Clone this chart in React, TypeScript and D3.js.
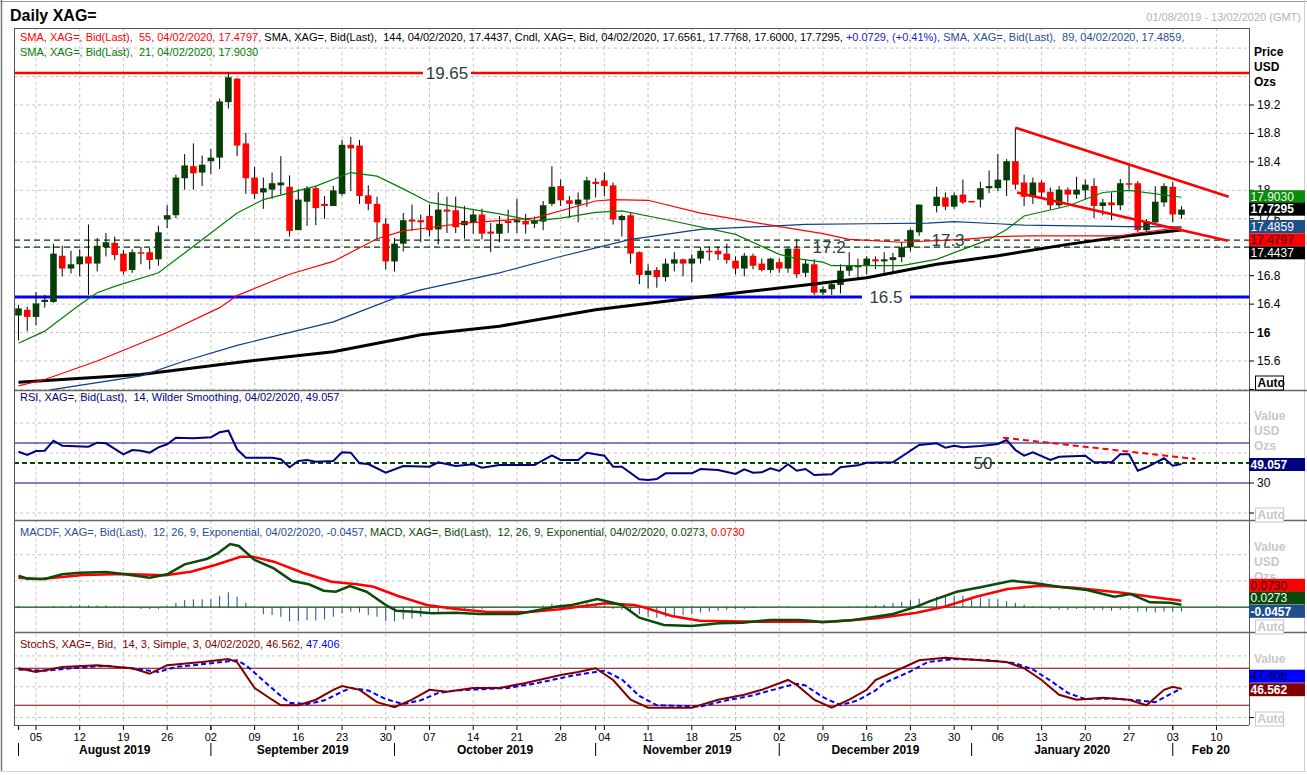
import React from "react";
import * as d3 from "d3";

// ---------- calendar (weekday slots) ----------
const START = new Date(2019, 7, 1);
const END = new Date(2020, 1, 13);
const DAYS = d3.timeDays(START, d3.timeDay.offset(END, 1)).filter((d) => d.getDay() !== 0 && d.getDay() !== 6);
const MONTH_NAMES = ["August 2019", "September 2019", "October 2019", "November 2019", "December 2019", "January 2020", "Feb 20"];

// ---------- candles ----------
const OPEN = [16.24,16.32,16.22,16.43,16.43,17.08,16.90,16.96,17.07,16.97,17.20,17.26,17.11,16.88,17.13,17.13,17.03,17.59,17.65,18.17,18.34,18.25,18.41,18.46,19.24,19.57,18.66,18.18,17.97,18.01,18.07,18.05,17.44,17.84,18.03,17.81,17.78,17.95,18.64,18.63,17.93,17.81,17.53,17.00,17.25,17.59,17.58,17.64,17.45,17.73,17.72,17.51,17.55,17.66,17.42,17.39,17.57,17.55,17.57,17.53,17.56,17.81,18.06,17.86,17.80,17.87,18.12,18.14,18.07,17.58,17.65,17.13,16.81,16.88,16.78,16.97,17.03,16.97,17.04,17.15,17.15,17.11,17.01,16.90,17.08,16.97,16.88,16.99,16.90,17.18,16.84,16.96,16.56,16.61,16.67,16.87,16.92,16.94,17.03,17.00,17.02,17.06,17.20,17.41,null,17.78,17.90,17.77,17.94,17.85,17.87,18.03,18.03,18.14,18.41,18.11,17.91,18.11,17.98,17.79,18.01,17.94,18.00,18.06,17.78,17.83,17.79,18.10,18.10,17.44,17.55,17.83,18.05,17.6561];
const HIGH = [16.39,16.36,16.57,16.53,17.25,17.22,17.15,17.17,17.52,17.33,17.40,17.35,17.16,17.17,17.20,17.19,17.50,17.79,18.22,18.51,18.66,18.49,18.58,19.29,19.66,19.58,18.81,18.33,18.18,18.25,18.48,18.21,18.02,18.06,18.06,17.92,18.06,18.71,18.75,18.71,18.07,17.91,17.61,17.33,17.68,17.80,17.66,17.80,17.97,17.91,17.91,17.78,17.72,17.74,17.54,17.64,17.73,17.88,17.67,17.63,17.85,18.34,18.15,17.92,17.97,18.19,18.17,18.25,18.11,17.66,17.68,17.14,16.96,16.92,17.04,17.13,17.04,17.10,17.20,17.21,17.21,17.25,17.07,17.12,17.11,17.04,17.05,17.04,17.19,17.32,17.03,17.03,16.65,16.72,16.96,17.13,17.04,17.07,17.07,17.13,17.12,17.27,17.46,17.80,null,18.05,17.97,17.97,18.15,17.85,18.12,18.28,18.51,18.44,18.88,18.22,18.18,18.14,18.04,18.06,18.04,18.19,18.15,18.17,17.88,17.97,18.16,18.35,18.13,17.60,18.06,18.10,18.12,17.7768];
const LOW = [15.89,16.02,16.10,16.35,16.42,16.79,16.83,16.79,16.53,16.86,17.07,17.02,16.82,16.84,16.96,16.89,16.94,17.47,17.61,18.01,18.01,18.06,18.23,18.30,19.15,18.48,17.95,17.88,17.74,17.88,17.94,17.35,17.44,17.50,17.51,17.60,17.78,17.92,17.99,17.81,17.72,17.31,16.89,16.86,17.14,17.43,17.27,17.35,17.24,17.40,17.40,17.32,17.39,17.31,17.13,17.27,17.40,17.40,17.39,17.47,17.44,17.78,17.78,17.61,17.55,17.77,17.90,17.92,17.52,17.35,16.97,16.68,16.62,16.63,16.72,16.86,16.79,16.71,16.97,17.01,17.02,16.97,16.82,16.79,16.89,16.86,16.84,16.84,16.84,16.77,16.78,16.53,16.53,16.53,16.55,16.80,16.77,16.82,16.89,16.84,16.85,16.99,17.14,17.36,null,17.69,17.72,17.74,17.81,17.84,17.76,17.96,17.99,17.92,18.01,17.78,17.81,17.88,17.73,17.75,17.83,17.88,17.87,17.61,17.65,17.58,17.72,18.01,17.41,17.42,17.52,17.77,17.55,17.6000];
const CLOSE = [16.34,16.22,16.41,16.46,17.11,16.90,16.96,17.07,16.97,17.22,17.27,17.09,16.86,17.13,17.11,17.02,17.41,17.65,18.18,18.35,18.24,18.36,18.46,19.25,19.59,18.63,18.17,17.95,18.03,18.10,18.11,17.43,17.87,18.03,17.75,17.78,18.00,18.64,18.59,17.92,17.81,17.55,17.00,17.25,17.58,17.56,17.55,17.44,17.73,17.70,17.48,17.57,17.66,17.39,17.39,17.53,17.54,17.58,17.52,17.58,17.79,18.05,17.86,17.81,17.87,18.14,18.09,18.06,17.59,17.64,17.11,16.81,16.87,16.78,16.97,17.03,16.97,17.04,17.15,17.13,17.10,17.02,16.90,17.08,16.94,16.88,17.04,16.90,17.18,16.82,16.97,16.56,16.61,16.68,16.87,16.94,16.94,17.04,17.00,17.03,17.06,17.20,17.44,17.80,null,17.91,17.77,17.93,17.83,17.84,18.03,18.06,18.15,18.41,18.08,17.91,18.11,17.97,17.79,18.01,17.94,18.01,18.08,17.78,17.83,17.79,18.10,18.08,17.44,17.56,17.84,18.06,17.66,17.7295];

// ---------- moving averages [day index, value] ----------
const SMA21 = [[0,15.85],[3,16.02],[7,16.39],[9,16.56],[11,16.65],[16,16.84],[19,17.12],[22,17.40],[25,17.68],[28,17.87],[34,18.06],[38,18.25],[41,18.20],[44,18.02],[47,17.83],[51,17.75],[55,17.67],[59,17.57],[62,17.61],[66,17.69],[69,17.71],[74,17.59],[82,17.38],[87,17.10],[89,17.04],[92,16.99],[93,16.94],[101,16.94],[105,17.03],[108,17.17],[111,17.31],[113,17.45],[115,17.64],[120,17.78],[124,17.97],[127,18.00],[133,17.903]];
const SMA55 = [[0,15.25],[3,15.34],[9,15.60],[17,16.00],[23,16.35],[25,16.52],[31,16.82],[36,17.00],[41,17.32],[44,17.43],[46,17.46],[51,17.54],[59,17.61],[66,17.85],[68,17.87],[72,17.86],[78,17.68],[86,17.51],[89,17.45],[92,17.39],[95,17.31],[101,17.27],[108,17.31],[112,17.35],[116,17.36],[126,17.36],[128,17.40],[133,17.4797]];
const SMA89 = [[0,15.10],[4,15.20],[14,15.39],[19,15.60],[25,15.82],[36,16.15],[44,16.53],[46,16.60],[55,16.84],[62,17.07],[70,17.31],[78,17.45],[90,17.52],[97,17.53],[104,17.54],[107,17.56],[112,17.53],[115,17.51],[127,17.49],[133,17.4859]];
const SMA144 = [[0,15.30],[14,15.41],[25,15.58],[36,15.73],[44,15.92],[46,15.97],[55,16.09],[66,16.32],[78,16.50],[90,16.67],[97,16.77],[105,16.96],[112,17.08],[120,17.24],[127,17.36],[133,17.4437]];

const RESISTANCE = 19.65;
const SUPPORT = 16.5;
const DASHED_LEVELS = [17.3, 17.2];
const LEVEL_LABELS = [
  { text: "19.65", i: 49, v: 19.65, box: true },
  { text: "17.2", i: 92.7, v: 17.2, box: false },
  { text: "17.3", i: 106.3, v: 17.3, box: false },
  { text: "16.5", i: 99.2, v: 16.5, box: true },
];
const TREND_UPPER = [[114, 18.88], [138.4, 17.91]];
const TREND_LOWER = [[114.2, 17.97], [138.3, 17.29]];

// ---------- RSI ----------
const RSI = [[0,61.3],[1,58],[2,62],[3,62.3],[4,72.3],[5,67.3],[8,66.3],[9,70.3],[10,69.7],[12,58.7],[13,63],[14,62.3],[15,60.3],[16,65.7],[17,68.7],[18,75.3],[20,74.7],[22,75.7],[23,80.7],[24,82.3],[25,63.7],[26,55.3],[29,55.3],[30,53.7],[31,45.7],[32,52],[33,53],[34,51.3],[36,52],[37,60.7],[38,60.3],[39,49.7],[40,49],[42,40.3],[44,47],[47,46.3],[48,50.7],[50,47],[52,48.7],[53,45.3],[55,48],[59,48],[61,57.7],[62,53],[64,53],[65,60.3],[67,57.3],[68,46.3],[69,46.3],[71,33.7],[72,33],[73,34],[74,39.7],[77,39.7],[78,44],[80,43],[82,39],[83,43.7],[84,40.3],[85,40.7],[86,44.7],[87,42],[88,48.7],[89,42.3],[90,44],[91,38],[93,38.7],[94,45.7],[96,47.7],[97,50.3],[100,50.7],[103,68],[105,69.7],[106,65.3],[107,67.3],[108,65.7],[110,67],[112,69],[113,73],[114,63],[115,57.3],[116,60.7],[118,53],[119,56.3],[122,57.3],[123,50.7],[125,50.7],[126,58.7],[127,58.7],[128,42.3],[129,45.7],[131,54.7],[132,47.3],[133,49.057]];
const RSI_LEVELS = [70, 30];
const RSI_TREND = [[112.6, 75.3], [134.6, 54]];

// ---------- MACD ----------
const MACD = [[0,0.36],[1,0.326],[3,0.322],[5,0.376],[7,0.394],[10,0.402],[12,0.379],[15,0.337],[17,0.376],[19,0.49],[21.6,0.554],[22.8,0.616],[24.2,0.722],[25.2,0.70],[27,0.54],[29.2,0.444],[31.3,0.30],[33.2,0.262],[34.9,0.189],[36.3,0.177],[37.9,0.242],[39.8,0.177],[42,0.025],[43.2,-0.04],[45.3,-0.051],[47.2,-0.07],[50,-0.063],[52.7,-0.078],[57.1,-0.078],[61.4,0.006],[63.3,0.025],[66.2,0.094],[69,0.025],[71,-0.12],[73.8,-0.203],[77,-0.215],[80.1,-0.184],[82.8,-0.177],[86,-0.146],[89.2,-0.146],[90.5,-0.154],[91.9,-0.173],[95.5,-0.146],[100,-0.078],[102.7,0.006],[104.1,0.063],[107.3,0.177],[110,0.227],[113.6,0.303],[116.3,0.273],[119,0.234],[122.2,0.197],[125.3,0.12],[127.2,0.151],[129.4,0.056],[131.7,0.051],[133,0.0273]];
const SIGNAL = [[0,0.337],[2.6,0.322],[7.4,0.368],[12.1,0.379],[16.8,0.364],[19.7,0.406],[22.5,0.482],[25.4,0.577],[26.8,0.577],[29.2,0.52],[32.5,0.394],[35.8,0.291],[38.7,0.262],[40.6,0.234],[43.4,0.128],[46.7,0.025],[50,-0.021],[53.4,-0.051],[58.1,-0.059],[61.9,-0.024],[67.1,0.044],[70.4,0.025],[71.5,0.0],[74.7,-0.10],[77.9,-0.154],[84.6,-0.166],[92.8,-0.166],[98.2,-0.127],[102.7,-0.063],[105.9,0.006],[109.5,0.12],[113.1,0.208],[116.8,0.246],[120.8,0.223],[126.2,0.166],[129.9,0.113],[133,0.073]];
const HIST = [0.01,0,-0.01,-0.01,0.01,0.01,0.02,0.02,0.02,0.02,0.02,0.01,-0.01,-0.01,-0.02,-0.02,-0.02,0.01,0.05,0.08,0.09,0.09,0.09,0.13,0.17,0.12,0.05,0,-0.08,-0.09,-0.11,-0.16,-0.16,-0.15,-0.15,-0.14,-0.11,-0.07,-0.05,-0.06,-0.09,-0.11,-0.16,-0.16,-0.14,-0.13,-0.11,-0.08,-0.05,-0.03,-0.03,-0.02,-0.02,-0.02,-0.01,-0.01,0,0,0,0.01,0.02,0.04,0.03,0.04,0.03,0.05,0.04,0.02,-0.02,-0.03,-0.04,-0.08,-0.11,-0.12,-0.11,-0.10,-0.09,-0.08,-0.06,-0.05,-0.04,-0.03,-0.02,-0.02,-0.01,-0.01,-0.01,0,0.01,0,0,-0.01,-0.01,-0.01,0,0.01,0.01,0.02,0.02,0.03,0.05,0.06,0.08,0.10,null,0.12,0.12,0.13,0.13,0.12,0.11,0.10,0.09,0.07,0.05,0.03,0.01,-0.01,-0.02,-0.03,-0.03,-0.02,-0.02,-0.03,-0.03,-0.04,-0.03,-0.02,-0.05,-0.05,-0.06,-0.05,-0.05,-0.0457];

// ---------- Stochastic ----------
const STOCH_K = [[0,80],[2,74],[5,82],[9,85],[13,80],[15,71],[17,85],[21,90],[24,95],[25,90],[27,48],[29,29],[30,20],[32,20],[34,29],[36,45],[37,51],[39,45],[41,25],[43,17],[45,29],[47,45],[49,42],[52,48],[55,48],[58,56],[62,69],[64,74],[66,80],[68,61],[70,29],[72,16],[77,16],[80,29],[83,37],[85,45],[88,61],[89,53],[91,29],[93,16],[95,29],[97,45],[98,61],[101,80],[103,93],[106,97],[110,93],[113,90],[115,80],[117,61],[119,37],[121,29],[124,32],[127,29],[129,20],[131,45],[132,50],[133,46.562]];
const STOCH_D = [[0,78],[3,76],[6,80],[10,84],[14,78],[16,74],[18,82],[22,88],[25,93],[26,85],[28,60],[30,35],[31,24],[33,22],[35,28],[37,42],[38,48],[40,44],[42,30],[44,22],[46,28],[48,40],[50,44],[53,46],[56,48],[59,55],[63,67],[65,72],[67,76],[69,62],[71,35],[73,20],[78,18],[81,28],[84,36],[86,44],[89,55],[90,52],[92,33],[94,20],[96,28],[98,44],[99,56],[102,75],[104,90],[107,95],[111,93],[114,88],[116,78],[118,60],[120,40],[122,30],[125,31],[128,28],[130,25],[132,40],[133,47.406]];
const STOCH_LEVELS = [80, 20];

// ---------- axis ticks ----------
const PRICE_TICKS = [15.2, 15.6, 16, 16.4, 16.8, 17.2, 17.6, 18, 18.4, 18.8, 19.2];
const PRICE_TICK_LABELS = ["", "15.6", "16", "16.4", "16.8", "", "17.6", "18", "18.4", "18.8", "19.2"];
const PRICE_GRID = [15.2, 15.6, 16, 16.4, 16.8, 17.2, 17.6, 18, 18.4, 18.8, 19.2, 19.6, 20];

// ---------- layout ----------
const W = 1307, H = 775;
const L = 14, R = 1249;
const MAIN = { top: 28, bottom: 390 };
const RSIP = { top: 391, bottom: 520 };
const MACDP = { top: 521, bottom: 632 };
const STOP = { top: 633, bottom: 725 };
const FONT = "'Liberation Sans', Arial, sans-serif";

const x = d3.scaleLinear().domain([0, 133]).range([18.5, 1181.5]);
const yP = d3.scaleLinear().domain([15.6, 19.2]).range([361, 105]);
const yR = d3.scaleLinear().domain([0, 100]).range([513, 413]);
const yM = d3.scaleLinear().domain([0, 0.6]).range([607.2, 554.7]);
const yS = d3.scaleLinear().domain([0, 100]).range([717.6, 655.9]);

const GRID = "#c4c4c4";
const UP = "#063f06";
const DOWN = "#ff0000";

function ValueBox({ y, text, bg, fg, bold }: any) {
  return (
    <g>
      <rect x={R} y={y - 6.5} width={56} height={13} fill={bg} />
      <text x={R + 1.5} y={y + 4.2} fontSize={12} fontFamily={FONT} fill={fg} fontWeight={bold ? "bold" : "normal"}>{text}</text>
    </g>
  );
}

function GrayStack({ y, labels }: any) {
  return (
    <g>
      {labels.map((t: string, k: number) => (
        <text key={k} x={1254} y={y + k * 15} fontSize={12} fontWeight="bold" fontFamily={FONT} fill="#c8c8c8">{t}</text>
      ))}
    </g>
  );
}

function AutoBox({ y, dark }: any) {
  return (
    <g>
      <rect x={1255.5} y={y - 7} width={28} height={14} fill="white" stroke={dark ? "#000" : "#c8c8c8"} strokeWidth={1} />
      <text x={1257.5} y={y + 4.3} fontSize={12} fontWeight="bold" fontFamily={FONT} fill={dark ? "#000" : "#c8c8c8"}>Auto</text>
    </g>
  );
}

export default function App() {
  const mondays = DAYS.map((d, i) => ({ d, i })).filter((o) => o.d.getDay() === 1);
  const monthStarts = DAYS.map((d, i) => ({ d, i })).filter((o, k) => k === 0 || DAYS[k - 1].getMonth() !== o.d.getMonth());

  const lineP = d3.line<number[]>().x((d) => x(d[0])).y((d) => yP(d[1]));
  const lineR = d3.line<number[]>().x((d) => x(d[0])).y((d) => yR(d[1]));
  const lineM = d3.line<number[]>().x((d) => x(d[0])).y((d) => yM(d[1]));
  const lineS = d3.line<number[]>().x((d) => x(d[0])).y((d) => yS(d[1]));

  const candles = OPEN.map((o, i) => ({ i, o, h: HIGH[i], l: LOW[i], c: CLOSE[i] })).filter((d) => d.o != null);

  const monthBounds = monthStarts.map((m, k) => {
    const a = x(m.i);
    const b = k + 1 < monthStarts.length ? x(monthStarts[k + 1].i) : R;
    return { a, b, label: MONTH_NAMES[k] };
  });

  return (
    <svg width={W} height={H} style={{ position: "absolute", left: 0, top: 0, background: "white" }} fontFamily={FONT}>
      <defs>
        <clipPath id="cMain"><rect x={L} y={MAIN.top} width={R - L} height={MAIN.bottom - MAIN.top} /></clipPath>
        <clipPath id="cRsi"><rect x={L} y={RSIP.top} width={R - L} height={RSIP.bottom - RSIP.top} /></clipPath>
        <clipPath id="cMacd"><rect x={L} y={MACDP.top} width={R - L} height={MACDP.bottom - MACDP.top} /></clipPath>
        <clipPath id="cSto"><rect x={L} y={STOP.top} width={R - L} height={STOP.bottom - STOP.top} /></clipPath>
      </defs>
      <rect x={0} y={0} width={W} height={H} fill="white" />
      {/* window frame */}
      <line x1={0} x2={W} y1={1.5} y2={1.5} stroke="#9a9a9a" />
      <line x1={1.5} x2={1.5} y1={0} y2={772} stroke="#7a7a7a" strokeWidth={1.5} />
      <line x1={1304.5} x2={1304.5} y1={0} y2={772} stroke="#d0d0d0" />
      <line x1={0} x2={W} y1={771.5} y2={771.5} stroke="#d8d8d8" />

      <text x={10} y={21} fontSize={16} fontWeight="bold" fill="#000">Daily XAG=</text>
      <text x={1301} y={21} fontSize={11} fill="#b4b4b4" textAnchor="end">01/08/2019 - 13/02/2020 (GMT)</text>

      {/* grids */}
      <g stroke={GRID} strokeDasharray="3,3" strokeWidth={1}>
        {mondays.map((m) => (
          <line key={"v" + m.i} x1={x(m.i)} x2={x(m.i)} y1={MAIN.top} y2={STOP.bottom} />
        ))}
        {PRICE_GRID.map((v) => (
          <line key={"p" + v} x1={L} x2={R} y1={yP(v)} y2={yP(v)} />
        ))}
        {[0, 60, 90].map((v) => (
          <line key={"r" + v} x1={L} x2={R} y1={yR(v)} y2={yR(v)} />
        ))}
        {[0.3, 0.6].map((v) => (
          <line key={"m" + v} x1={L} x2={R} y1={yM(v)} y2={yM(v)} />
        ))}
        {[0, 50, 100].map((v) => (
          <line key={"s" + v} x1={L} x2={R} y1={yS(v)} y2={yS(v)} />
        ))}
      </g>

      {/* ===== MAIN PANEL ===== */}
      <g clipPath="url(#cMain)">
        <line x1={L} x2={R} y1={yP(RESISTANCE)} y2={yP(RESISTANCE)} stroke="#ff0000" strokeWidth={2.5} />
        {DASHED_LEVELS.map((v) => (
          <line key={v} x1={L} x2={R} y1={yP(v)} y2={yP(v)} stroke="#0a3a0a" strokeWidth={1.3} strokeDasharray="6,4" />
        ))}
        <line x1={L} x2={R} y1={yP(SUPPORT)} y2={yP(SUPPORT)} stroke="#0000ff" strokeWidth={3} />

        {candles.map((d) => {
          const up = d.c >= d.o;
          const top = yP(Math.max(d.o, d.c));
          const bot = yP(Math.min(d.o, d.c));
          return (
            <g key={d.i}>
              <line x1={x(d.i)} x2={x(d.i)} y1={yP(d.h)} y2={yP(d.l)} stroke="#000" strokeWidth={1} />
              <rect x={x(d.i) - 3.3} width={6.6} y={top} height={Math.max(1.5, bot - top)} fill={up ? UP : DOWN} />
            </g>
          );
        })}

        <path d={lineP(SMA144) || ""} fill="none" stroke="#000" strokeWidth={3} />
        <path d={lineP(SMA89) || ""} fill="none" stroke="#0b3f8a" strokeWidth={1.2} />
        <path d={lineP(SMA55) || ""} fill="none" stroke="#ff0000" strokeWidth={1.2} />
        <path d={lineP(SMA21) || ""} fill="none" stroke="#008000" strokeWidth={1.2} />

        <path d={lineP(TREND_UPPER) || ""} fill="none" stroke="#ff0000" strokeWidth={2.6} />
        <path d={lineP(TREND_LOWER) || ""} fill="none" stroke="#ff0000" strokeWidth={2.6} />

        {LEVEL_LABELS.map((lb) => (
          <g key={lb.text}>
            {lb.box && <rect x={x(lb.i) - 24} y={yP(lb.v) - 9} width={48} height={18} fill="white" />}
            <text x={x(lb.i)} y={yP(lb.v) + 6} fontSize={17} fill="#2c3e3e" textAnchor="middle">{lb.text}</text>
          </g>
        ))}
      </g>

      {/* header text */}
      <text y={40.5} fontSize={11} style={{ whiteSpace: "pre" }}>
        <tspan x={20} fill="#ff0000">SMA, XAG=, Bid(Last),  55, 04/02/2020, 17.4797, </tspan>
        <tspan fill="#000">SMA, XAG=, Bid(Last),  144, 04/02/2020, 17.4437, Cndl, XAG=, Bid, 04/02/2020, 17.6561, 17.7768, 17.6000, 17.7295, </tspan>
        <tspan fill="#1a1ad0">+0.0729, (+0.41%), </tspan>
        <tspan fill="#1f4e9a">SMA, XAG=, Bid(Last),  89, 04/02/2020, 17.4859,</tspan>
      </text>
      <text x={20} y={55.5} fontSize={11} fill="#008000" style={{ whiteSpace: "pre" }}>SMA, XAG=, Bid(Last),  21, 04/02/2020, 17.9030</text>

      {/* ===== RSI PANEL ===== */}
      <g clipPath="url(#cRsi)">
        {RSI_LEVELS.map((v) => (
          <line key={v} x1={L} x2={R} y1={yR(v)} y2={yR(v)} stroke="#000080" strokeWidth={1.2} />
        ))}
        <line x1={L} x2={R} y1={yR(50)} y2={yR(50)} stroke="#0a4a0a" strokeWidth={2} strokeDasharray="5,3" />
        <path d={lineR(RSI_TREND) || ""} fill="none" stroke="#ff0000" strokeWidth={2} strokeDasharray="6,4" />
        <path d={lineR(RSI) || ""} fill="none" stroke="#000080" strokeWidth={2} />
        <text x={x(110.3)} y={yR(50) + 6} fontSize={17} fill="#2c3e2c" textAnchor="middle">50</text>
      </g>
      <text x={20} y={401} fontSize={11} fill="#000080" style={{ whiteSpace: "pre" }}>RSI, XAG=, Bid(Last),  14, Wilder Smoothing, 04/02/2020, 49.057</text>

      {/* ===== MACD PANEL ===== */}
      <g clipPath="url(#cMacd)">
        {HIST.map((v, i) => (v == null ? null : (
          <line key={i} x1={x(i)} x2={x(i)} y1={yM(0)} y2={yM(v)} stroke="#1f4e8c" strokeWidth={1} />
        )))}
        <line x1={L} x2={R} y1={yM(0)} y2={yM(0)} stroke="#0a4a0a" strokeWidth={1.3} />
        <path d={lineM(SIGNAL) || ""} fill="none" stroke="#ff0000" strokeWidth={2.5} />
        <path d={lineM(MACD) || ""} fill="none" stroke="#0a4a0a" strokeWidth={2.5} />
      </g>
      <text y={536} fontSize={11} style={{ whiteSpace: "pre" }}>
        <tspan x={20} fill="#1f4e9a">MACDF, XAG=, Bid(Last),  12, 26, 9, Exponential, 04/02/2020, -0.0457, </tspan>
        <tspan fill="#0a4a0a">MACD, XAG=, Bid(Last),  12, 26, 9, Exponential, 04/02/2020, 0.0273, </tspan>
        <tspan fill="#ff0000">0.0730</tspan>
      </text>

      {/* ===== STOCH PANEL ===== */}
      <g clipPath="url(#cSto)">
        {STOCH_LEVELS.map((v) => (
          <line key={v} x1={L} x2={R} y1={yS(v)} y2={yS(v)} stroke="#800000" strokeWidth={1.2} />
        ))}
        <path d={lineS(STOCH_D) || ""} fill="none" stroke="#0000ff" strokeWidth={2} strokeDasharray="5,3" />
        <path d={lineS(STOCH_K) || ""} fill="none" stroke="#800000" strokeWidth={2} />
      </g>
      <text y={648} fontSize={11} style={{ whiteSpace: "pre" }}>
        <tspan x={20} fill="#800000">StochS, XAG=, Bid,  14, 3, Simple, 3, 04/02/2020, 46.562, </tspan>
        <tspan fill="#0000ff">47.406</tspan>
      </text>

      {/* panel frames */}
      <line x1={L} x2={R} y1={MAIN.top + 0.5} y2={MAIN.top + 0.5} stroke="#555" />
      <line x1={L + 0.5} x2={L + 0.5} y1={MAIN.top} y2={STOP.bottom} stroke="#555" />
      <line x1={R + 0.5} x2={R + 0.5} y1={MAIN.top} y2={STOP.bottom} stroke="#555" />
      {[MAIN.bottom, RSIP.bottom, MACDP.bottom].map((yy) => (
        <line key={yy} x1={L} x2={W} y1={yy + 0.5} y2={yy + 0.5} stroke="#666" strokeWidth={1.5} />
      ))}
      <line x1={L} x2={R} y1={STOP.bottom + 0.5} y2={STOP.bottom + 0.5} stroke="#555" />

      {/* price axis */}
      <text x={1254} y={56} fontSize={12} fontWeight="bold" fill="#000">Price</text>
      <text x={1254} y={71} fontSize={12} fontWeight="bold" fill="#000">USD</text>
      <text x={1254} y={86} fontSize={12} fontWeight="bold" fill="#000">Ozs</text>
      {PRICE_TICKS.map((v, k) => (
        <g key={v}>
          <line x1={R} x2={R + 5} y1={yP(v)} y2={yP(v)} stroke="#000" />
          {PRICE_TICK_LABELS[k] && (
            <text x={1257} y={yP(v) + 4} fontSize={12} fill="#000" fontWeight={v === 16 ? "bold" : "normal"}>{PRICE_TICK_LABELS[k]}</text>
          )}
        </g>
      ))}
      <AutoBox y={383} dark />
      <ValueBox y={196.7} text="17.9030" bg="#0d8a0d" fg="#eaffea" />
      <ValueBox y={209.2} text="17.7295" bg="#000" fg="#fff" bold />
      <ValueBox y={226.5} text="17.4859" bg="#1f4e8c" fg="#fff" />
      <ValueBox y={239.7} text="17.4797" bg="#ff0000" fg="#300000" />
      <ValueBox y={252.8} text="17.4437" bg="#000" fg="#fff" />

      {/* RSI axis */}
      <GrayStack y={420} labels={["Value", "USD", "Ozs"]} />
      <line x1={R} x2={R + 5} y1={yR(30)} y2={yR(30)} stroke="#000" />
      <text x={1257} y={yR(30) + 4} fontSize={12} fill="#000">30</text>
      <line x1={R} x2={R + 5} y1={yR(0)} y2={yR(0)} stroke="#000" />
      <AutoBox y={515} />
      <ValueBox y={464.5} text="49.057" bg="#000080" fg="#fff" bold />

      {/* MACD axis */}
      <GrayStack y={551} labels={["Value", "USD", "Ozs"]} />
      <ValueBox y={585.3} text="0.0730" bg="#ff0000" fg="#300000" />
      <ValueBox y={598} text="0.0273" bg="#0a4a0a" fg="#f0fff0" />
      <ValueBox y={611.3} text="-0.0457" bg="#1f4e8c" fg="#fff" bold />
      <AutoBox y={627} />

      {/* Stoch axis */}
      <GrayStack y={663} labels={["Value"]} />
      <ValueBox y={676.2} text="47.406" bg="#0000ff" fg="#000040" />
      <ValueBox y={689.7} text="46.562" bg="#800000" fg="#fff" bold />
      <line x1={R} x2={R + 5} y1={yS(0)} y2={yS(0)} stroke="#000" />
      <AutoBox y={719} />

      {/* time axis */}
      {mondays.map((m) => (
        <g key={"t" + m.i}>
          <line x1={x(m.i)} x2={x(m.i)} y1={726} y2={730} stroke="#000" />
          <text x={x(m.i)} y={741} fontSize={11} textAnchor="middle" fill="#000">{d3.timeFormat("%d")(m.d)}</text>
        </g>
      ))}
      {monthStarts.map((m) => (
        <g key={"ms" + m.i}>
          <line x1={x(m.i)} x2={x(m.i)} y1={726} y2={730} stroke="#000" />
          <line x1={x(m.i)} x2={x(m.i)} y1={743} y2={756} stroke="#000" />
        </g>
      ))}
      {monthBounds.map((mb) => (
        <text key={mb.label} x={(mb.a + mb.b) / 2} y={754} fontSize={12} fontWeight="bold" textAnchor="middle" fill="#000">{mb.label}</text>
      ))}
    </svg>
  );
}
